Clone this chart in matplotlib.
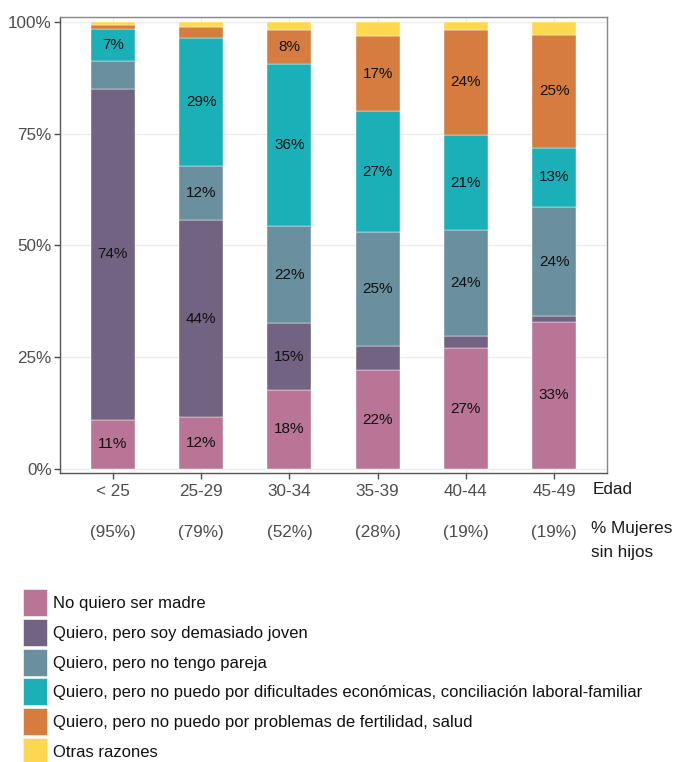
from matplotlib import pyplot as plt
from matplotlib.patches import Rectangle
import matplotlib.transforms as mtransforms
import numpy as np

#### Datos ####
edades = ['< 25', '25-29', '30-34', '35-39', '40-44', '45-49']
sin_hijos = [95, 79, 52, 28, 19, 19]

no_quiero = [11.0, 11.7, 17.7, 22.1, 27.0, 32.9]
joven = [74.1, 43.9, 14.9, 5.5, 2.8, 1.3]
pareja = [6.1, 12.2, 21.8, 25.3, 23.7, 24.3]
economicas = [7.3, 28.7, 36.1, 27.1, 21.1, 13.4]
fertilidad = [0.9, 2.4, 7.8, 16.9, 23.7, 25.2]
otras = [0.6, 1.1, 1.7, 3.1, 1.7, 2.9]

categorias = ['No quiero ser madre',
              'Quiero, pero soy demasiado joven',
              'Quiero, pero no tengo pareja',
              'Quiero, pero no puedo por dificultades económicas, conciliación laboral-familiar',
              'Quiero, pero no puedo por problemas de fertilidad, salud',
              'Otras razones']
colores = ['#B87596', '#726383', '#6A8F9F', '#1BB0B8', '#D57C40', '#FFD84F']

series = [no_quiero, joven, pareja, economicas, fertilidad, otras]

plt.rcParams['font.family'] = ['Liberation Sans', 'DejaVu Sans']

W, H = 680, 762
fig = plt.figure(figsize=(W/100, H/100), dpi=100)
ax = fig.add_axes([60/W, 1-473/H, 547/W, 456/H])

##### Barras apiladas
x = np.arange(len(edades))
base = np.zeros(len(edades))
for vals, col in zip(series, colores):
    vals = np.array(vals)
    ax.bar(x, vals, 0.5, bottom=base, color=col, edgecolor='white', linewidth=0.3, zorder=2)
    for xi, b, v in zip(x, base, vals):
        if v >= 6.5:
            ax.text(xi, b + v/2, '%d%%' % round(v), ha='center', va='center',
                    fontsize=11, color='#111111', zorder=3)
    base = base + vals

ax.set_xlim(-0.6, 5.6)
ax.set_ylim(-0.9, 101.1)
ax.set_yticks([0, 25, 50, 75, 100])
ax.set_yticklabels(['0%', '25%', '50%', '75%', '100%'])
ax.set_xticks(x)
ax.set_xticklabels(edades)
ax.tick_params(axis='both', labelsize=12.3, labelcolor='#4D4D4D', color='#4D4D4D', length=4, width=1)
ax.tick_params(axis='y', pad=2)
ax.tick_params(axis='x', pad=4)
ax.grid(True, color='#EBEBEB', linewidth=1, zorder=0)
ax.set_axisbelow(True)
for s in ax.spines.values():
    s.set_color('#888888')
    s.set_linewidth(1)
ax.spines['left'].set_color('#555555')
ax.spines['bottom'].set_color('#555555')

# segunda fila: % mujeres sin hijos
trans = mtransforms.blended_transform_factory(ax.transData, fig.transFigure)
for xi, p in zip(x, sin_hijos):
    ax.text(xi, 1-532/H, '(%d%%)' % p, transform=trans,
            ha='center', va='center', fontsize=12.3, color='#4D4D4D')

fig.text(593/W, 1-490/H, 'Edad', ha='left', va='center', fontsize=12.3, color='#1A1A1A')
fig.text(591/W, 1-540.5/H, '% Mujeres\nsin hijos', ha='left', va='center', fontsize=12.3,
         color='#1A1A1A', linespacing=1.75)

##### Leyenda
for i, (c, lab) in enumerate(zip(colores, categorias)):
    top = 589 + i*29.8
    fig.add_artist(Rectangle((23/W, 1-(top+27)/H), 24/W, 27/H, transform=fig.transFigure,
                             facecolor=c, edgecolor='#F2F2F2', linewidth=0.5))
    fig.text(53/W, 1-(top+14.5)/H, lab, ha='left', va='center', fontsize=12, color='#111111')

fig.savefig('out.png', dpi=100)
